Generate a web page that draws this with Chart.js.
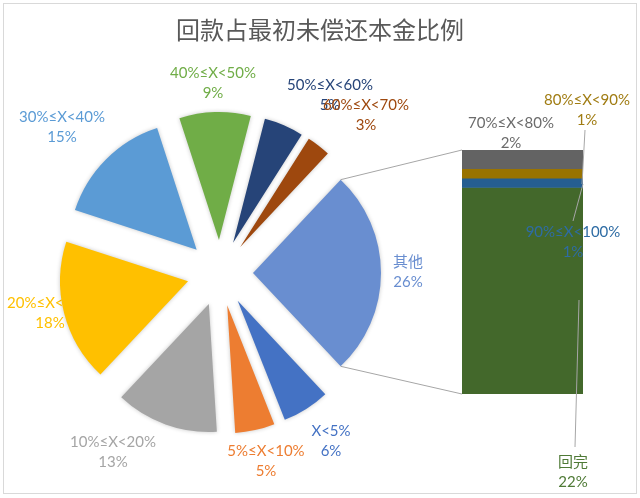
<!DOCTYPE html>
<html>
<head>
<meta charset="utf-8">
<script src="https://cdn.jsdelivr.net/npm/chart.js@4/dist/chart.umd.min.js"></script>
<style>
  html, body { margin: 0; padding: 0; background: #fff; }
  #wrap { position: relative; width: 640px; height: 498px; }
  #frame { position: absolute; left: 3px; top: 3px; width: 632px; height: 489px; border: 1px solid #d9d9d9; }
  canvas { position: absolute; left: 0; top: 0; }
</style>
</head>
<body>
<div id="wrap">
  <div id="frame"></div>
  <canvas id="pieChart" width="640" height="498"></canvas>
  <canvas id="barChart" width="640" height="498"></canvas>
</div>
<script>
const title = '回款占最初未偿还本金比例'

// main pie, clockwise from the lower edge of the "其他" slice
const pieLabels = ['X<5%', '5%≤X<10%', '10%≤X<20%', '20%≤X<30%', '30%≤X<40%', '40%≤X<50%', '50%≤X<60%', '60%≤X<70%', '其他']
const pieValues = [6, 5, 13, 18, 15, 9, 5, 3, 26]

// the stacked bar that splits up "其他", top to bottom
const barLabels = ['70%≤X<80%', '80%≤X<90%', '90%≤X<100%', '回完']
const barValues = [2, 1, 1, 22]

const pieColors = ['#4472C4', '#ED7D31', '#A5A5A5', '#FFC000', '#5B9BD5', '#70AD47', '#264478', '#9E480E', '#698ED0']
const barColors = ['#636363', '#997300', '#255E91', '#43682B']
const barTextColors = ['#6b6b6b', '#a07c12', '#2E6CA4', '#4f7a36']

const TITLE_FONT = '"Noto Sans CJK SC", sans-serif'
const FONT = 'Lato, "DejaVu Sans", "Noto Sans CJK SC", sans-serif'
const EXPLODE = 33

// label anchors (centre of first line)
const pieLabelPos = [[331, 431], [266, 451], [113, 442], [50, 303], [62, 117], [213, 73], [330, 85], [366, 105], [408, 262]]
const barLabelPos = [[511, 123], [587, 100], [573, 232], [573, 462]]
const leaders = [null, [[585, 130], [582, 184]], [[573, 221], [583, 184]], [[575, 447], [579, 300]]]

const total = pieValues.reduce((a, b) => a + b, 0)
const otherShare = pieValues[pieValues.length - 1] / total

function drawLabel(ctx, x, y, name, value, color) {
  ctx.save()
  ctx.font = '15px ' + FONT
  ctx.fillStyle = color
  ctx.textAlign = 'center'
  ctx.textBaseline = 'middle'
  ctx.fillText(name, x, y)
  ctx.fillText(value + '%', x, y + 20)
  ctx.restore()
}

const explodePlugin = {
  id: 'explode',
  beforeDatasetsDraw(chart) {
    const ctx = chart.ctx
    ctx.save()
    ctx.font = '24px ' + TITLE_FONT
    ctx.fillStyle = '#595959'
    ctx.textAlign = 'center'
    ctx.textBaseline = 'middle'
    ctx.fillText(title, 320, 30)
    ctx.restore()
    pieLabels.forEach((l, i) => drawLabel(ctx, pieLabelPos[i][0], pieLabelPos[i][1], l, pieValues[i], pieColors[i]))
  },
  beforeDatasetDraw(chart, args) {
    const ctx = chart.ctx
    args.meta.data.forEach(arc => {
      const mid = (arc.startAngle + arc.endAngle) / 2
      ctx.save()
      ctx.shadowColor = 'rgba(0,0,0,0.22)'
      ctx.shadowBlur = 4
      ctx.translate(Math.cos(mid) * EXPLODE, Math.sin(mid) * EXPLODE)
      arc.draw(ctx)
      ctx.restore()
    })
    return false
  }
}

const pieChart = new Chart(document.getElementById('pieChart'), {
  type: 'pie',
  data: {
    labels: pieLabels,
    datasets: [{
      data: pieValues,
      backgroundColor: pieColors,
      borderWidth: 0
    }]
  },
  options: {
    responsive: false,
    animation: false,
    radius: 128,
    rotation: 90 + otherShare * 180,
    layout: { padding: { left: 0, right: 200, top: 48, bottom: 0 } },
    plugins: { legend: { display: false }, tooltip: { enabled: false } },
    events: []
  },
  plugins: [explodePlugin]
})

const connectorPlugin = {
  id: 'connector',
  afterDatasetsDraw(chart) {
    const ctx = chart.ctx
    const arcs = pieChart.getDatasetMeta(0).data
    const other = arcs[arcs.length - 1]
    const mid = (other.startAngle + other.endAngle) / 2
    const ox = other.x + Math.cos(mid) * EXPLODE
    const oy = other.y + Math.sin(mid) * EXPLODE
    const r = other.outerRadius
    const top = chart.getDatasetMeta(0).data[0]
    const bottom = chart.getDatasetMeta(barLabels.length - 1).data[0]
    const left = top.x - top.width / 2

    ctx.save()
    ctx.strokeStyle = '#a6a6a6'
    ctx.lineWidth = 1
    ctx.beginPath()
    ctx.moveTo(ox + Math.cos(other.startAngle) * r, oy + Math.sin(other.startAngle) * r)
    ctx.lineTo(left, Math.min(top.y, top.base))
    ctx.moveTo(ox + Math.cos(other.endAngle) * r, oy + Math.sin(other.endAngle) * r)
    ctx.lineTo(left, Math.max(bottom.y, bottom.base))
    leaders.forEach(l => {
      if (!l) return
      ctx.moveTo(l[0][0], l[0][1])
      ctx.lineTo(l[1][0], l[1][1])
    })
    ctx.stroke()
    ctx.restore()

    barLabels.forEach((l, i) => drawLabel(ctx, barLabelPos[i][0], barLabelPos[i][1], l, barValues[i], barTextColors[i]))
  }
}

new Chart(document.getElementById('barChart'), {
  type: 'bar',
  data: {
    labels: [''],
    datasets: barLabels.map((l, i) => ({
      label: l,
      data: [barValues[i]],
      backgroundColor: barColors[i],
      borderWidth: 0,
      barPercentage: 1,
      categoryPercentage: 1
    }))
  },
  options: {
    responsive: false,
    animation: false,
    layout: { padding: { left: 462, right: 57, top: 150, bottom: 104 } },
    scales: {
      x: { stacked: true, display: false },
      y: { stacked: true, display: false, reverse: true, min: 0, max: barValues.reduce((a, b) => a + b, 0) }
    },
    plugins: { legend: { display: false }, tooltip: { enabled: false } },
    events: []
  },
  plugins: [connectorPlugin]
})
</script>
</body>
</html>
